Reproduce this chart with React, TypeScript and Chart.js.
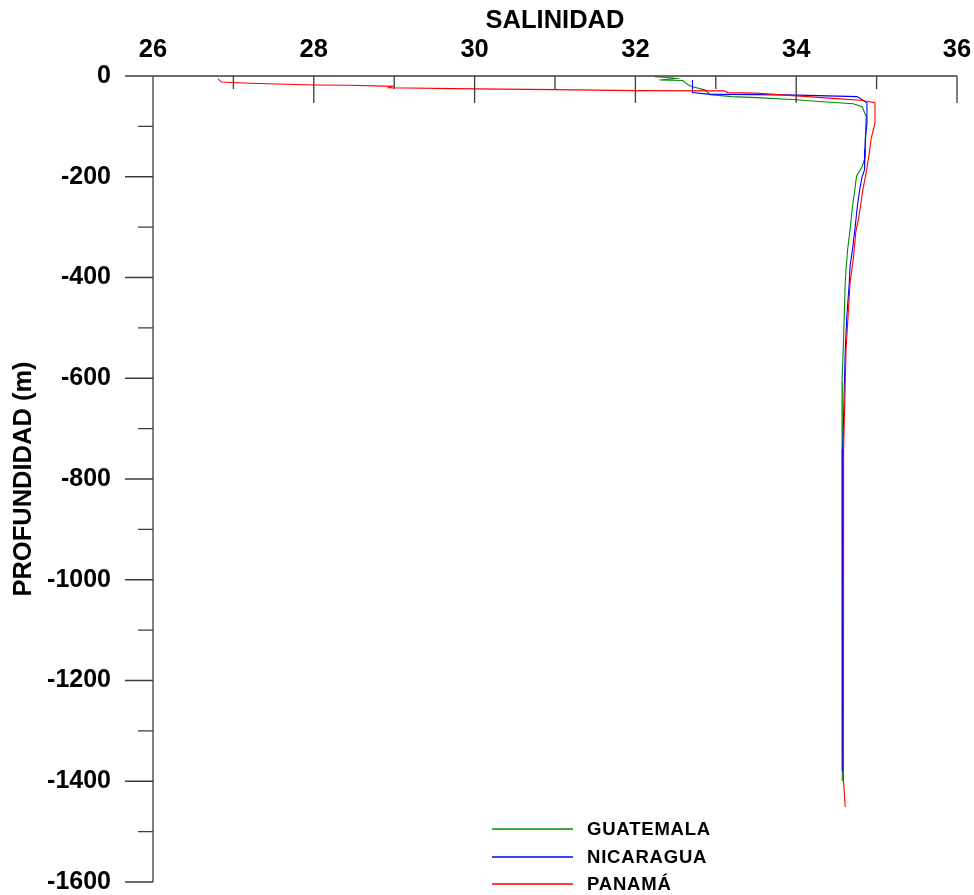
import React, { useEffect, useRef } from 'react';
import { Chart, registerables } from 'chart.js';

Chart.register(...registerables);

const seriesNames = ['GUATEMALA', 'NICARAGUA', 'PANAMÁ'];
const seriesColors = ['#008c00', '#0000ff', '#ff0000'];

const salinityTicks = [26, 28, 30, 32, 34, 36];
const depthTicks = [0, -200, -400, -600, -800, -1000, -1200, -1400, -1600];

const guatemalaDepth = [1.6, 3, 5, 8, 9, 17, 21, 28, 37, 41, 43, 47, 51, 55, 61, 80, 126, 160, 180, 199, 225, 259, 305, 344, 384, 410, 517, 608, 741, 1138, 1400];
const guatemalaSalinity = [32.24, 32.4, 32.51, 32.3, 32.59, 32.65, 32.7, 32.87, 32.93, 33.2, 33.51, 34.0, 34.33, 34.71, 34.82, 34.87, 34.86, 34.86, 34.82, 34.75, 34.73, 34.7, 34.67, 34.64, 34.62, 34.61, 34.59, 34.57, 34.57, 34.57, 34.58];

const nicaraguaDepth = [8, 33, 36, 37, 38, 41, 48, 53, 93, 126, 146, 186, 200, 225, 259, 305, 344, 378, 410, 478, 543, 741, 875, 1138, 1380];
const nicaraguaSalinity = [32.71, 32.71, 32.9, 33.5, 34.01, 34.76, 34.83, 34.88, 34.88, 34.86, 34.855, 34.85, 34.82, 34.79, 34.76, 34.73, 34.7, 34.67, 34.66, 34.63, 34.61, 34.58, 34.57, 34.57, 34.58];

const panamaDepth = [5.6, 12, 14.5, 18, 18.5, 20.5, 23.5, 25.5, 27, 29, 29.5, 33, 34, 45, 48, 53, 93, 126, 152, 192, 225, 279, 311, 364, 411, 543, 741, 1138, 1396, 1451];
const panamaSalinity = [26.81, 26.85, 27.2, 28.0, 28.45, 28.98, 28.93, 30.0, 31.0, 32.0, 33.1, 33.15, 33.5, 34.5, 34.8, 34.98, 34.98, 34.93, 34.91, 34.87, 34.83, 34.78, 34.74, 34.71, 34.67, 34.62, 34.59, 34.585, 34.59, 34.61];

const depths = [guatemalaDepth, nicaraguaDepth, panamaDepth];
const salinities = [guatemalaSalinity, nicaraguaSalinity, panamaSalinity];

const FONT = "'Liberation Sans', Arial, sans-serif";

const axesPlugin = {
  id: 'profileAxes',
  afterDatasetsDraw(chart: any) {
    const { ctx, chartArea, scales } = chart;
    const { left, top, right, bottom } = chartArea;
    const x = scales.x;
    const y = scales.y;
    ctx.save();
    ctx.strokeStyle = '#3c3c3c';
    ctx.lineWidth = 1.3;
    ctx.beginPath();
    ctx.moveTo(left - 28, top);
    ctx.lineTo(right, top);
    ctx.moveTo(left, top);
    ctx.lineTo(left, bottom);
    x.ticks.forEach((t: any) => {
      const px = x.getPixelForValue(t.value);
      const len = salinityTicks.includes(t.value) ? 27 : 13;
      ctx.moveTo(px, top);
      ctx.lineTo(px, top + len);
    });
    y.ticks.forEach((t: any) => {
      const py = y.getPixelForValue(t.value);
      const len = depthTicks.includes(t.value) ? 28 : 15;
      ctx.moveTo(left - len, py);
      ctx.lineTo(left, py);
    });
    ctx.stroke();

    // legend
    const rowsY = [829, 857, 884];
    ctx.font = `bold 18.5px ${FONT}`;
    try { (ctx as any).letterSpacing = '0.8px'; } catch (e) { /* ignore */ }
    ctx.textBaseline = 'middle';
    ctx.textAlign = 'left';
    seriesNames.forEach((name, i) => {
      ctx.strokeStyle = seriesColors[i];
      ctx.lineWidth = 1.5;
      ctx.beginPath();
      ctx.moveTo(492, rowsY[i]);
      ctx.lineTo(573, rowsY[i]);
      ctx.stroke();
      ctx.fillStyle = '#000';
      ctx.fillText(name, 587, rowsY[i] + 1);
    });
    ctx.restore();
  },
};

export default function App() {
  const canvasRef = useRef<HTMLCanvasElement | null>(null);

  useEffect(() => {
    document.body.style.margin = '0';
    const canvas = canvasRef.current;
    if (!canvas) return;
    const datasets = seriesNames.map((name, i) => ({
      label: name,
      data: depths[i].map((d, j) => ({ x: salinities[i][j], y: -d })),
      borderColor: seriesColors[i],
      backgroundColor: seriesColors[i],
      borderWidth: 1.1,
      pointRadius: 0,
      showLine: true,
      fill: false,
      tension: 0,
      order: 2 - i,
    }));
    const chart = new Chart(canvas, {
      type: 'scatter',
      data: { datasets },
      plugins: [axesPlugin],
      options: {
        animation: false,
        responsive: false,
        devicePixelRatio: 1,
        layout: { padding: { left: 0, top: 0, right: 17, bottom: 13 } },
        plugins: { legend: { display: false }, tooltip: { enabled: false } },
        scales: {
          x: {
            type: 'linear',
            position: 'top',
            min: 26,
            max: 36,
            grid: { display: false, drawTicks: true, tickLength: 11 },
            border: { display: false },
            ticks: {
              stepSize: 1,
              autoSkip: false,
              maxRotation: 0,
              padding: 0,
              color: '#000',
              font: { family: FONT, size: 25.5, weight: 'bold' },
              callback: (v: any) => (salinityTicks.includes(Number(v)) ? String(v) : ''),
            },
            title: {
              display: true,
              text: 'SALINIDAD',
              color: '#000',
              padding: { top: 6, bottom: 0 },
              font: { family: FONT, size: 25.5, weight: 'bold' },
            },
            afterFit: (s: any) => {
              s.height = 76;
            },
          },
          y: {
            type: 'linear',
            min: -1600,
            max: 0,
            grid: { display: false, drawTicks: true, tickLength: 42 },
            border: { display: false },
            ticks: {
              stepSize: 100,
              autoSkip: false,
              padding: 0,
              color: '#000',
              font: { family: FONT, size: 25, weight: 'bold', lineHeight: 1 },
              callback: (v: any) => (depthTicks.includes(Number(v)) ? String(v) : ''),
            },
            title: {
              display: true,
              text: 'PROFUNDIDAD (m)',
              color: '#000',
              padding: { top: 9, bottom: 0 },
              font: { family: FONT, size: 25.5, weight: 'bold' },
            },
            afterFit: (s: any) => {
              s.width = 153;
            },
          },
        },
      },
    });
    return () => chart.destroy();
  }, []);

  return (
    <div style={{ width: 974, height: 895, background: '#fff' }}>
      <canvas ref={canvasRef} width={974} height={895} style={{ display: 'block' }} />
    </div>
  );
}
